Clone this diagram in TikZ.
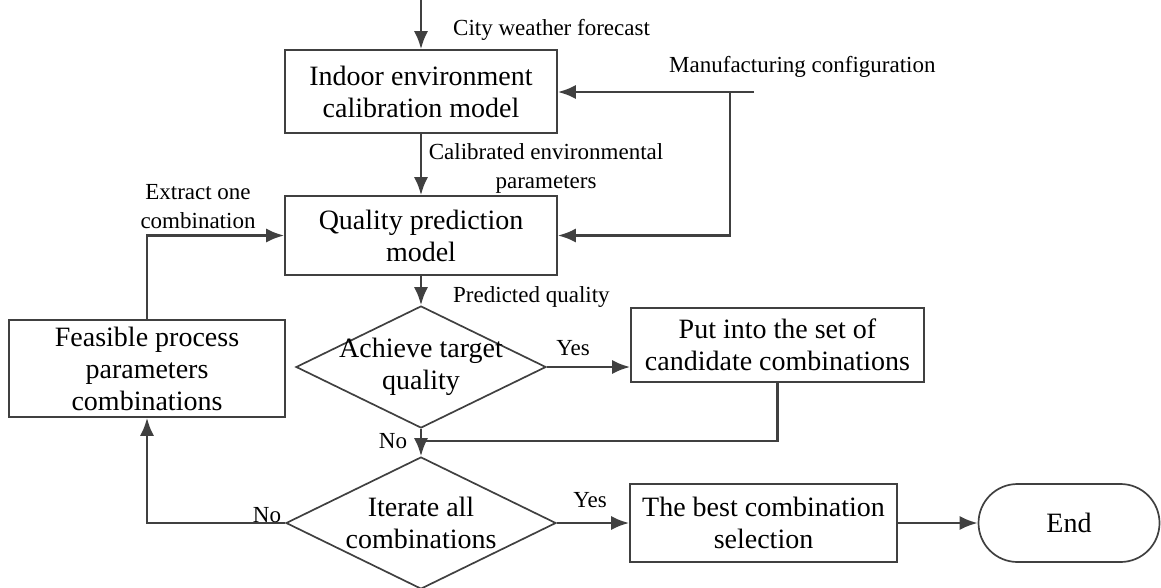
\documentclass[tikz,border=0pt]{standalone}
\usepackage{fontspec}
\setmainfont{Liberation Serif}
\usetikzlibrary{arrows.meta,shapes.geometric,shapes.misc,positioning}

\definecolor{linegray}{HTML}{404040}

\begin{document}
\begin{tikzpicture}
  [
  x=1pt, y=-1pt,
  line width=2.4pt, draw=linegray, >={Latex[length=18pt,width=14pt]},
  flowbox/.style={rectangle, draw=linegray, line width=1.7pt, align=center, inner sep=1pt, font=\fontsize{28}{32}\selectfont},
  decision/.style={diamond, draw=linegray, line width=1.7pt, inner sep=0pt},
  flowtext/.style={align=center, font=\fontsize{28}{32}\selectfont},
  flowlabel/.style={align=center, inner sep=0pt, font=\fontsize{23}{29}\selectfont}
  ]
  \useasboundingbox (0,0) rectangle (1161,587);

  % main chain
  \node[flowbox, minimum width=272pt, minimum height=83pt] (calib) at (421,91.5) {Indoor environment\\calibration model};
  \node[flowbox, minimum width=272pt, minimum height=79pt] (quality) at (421,235.5) {Quality prediction\\model};
  \node[flowbox, minimum width=276pt, minimum height=97pt] (feasible) at (147,368.5) {Feasible process\\parameters\\combinations};

  \node[decision, minimum width=250pt, minimum height=122pt] (achieve) at (421,367) {};
  \node[flowtext] (achievetext) at (achieve) {Achieve target\\quality};
  \node[flowbox, minimum width=293pt, minimum height=74pt] (candidate) at (777.5,345) {Put into the set of\\candidate combinations};

  \node[decision, minimum width=270pt, minimum height=132pt] (iterate) at (421,523) {};
  \node[flowtext] (iteratetext) at (iterate) {Iterate all\\combinations};
  \node[flowbox, minimum width=267pt, minimum height=78pt] (best) at (763.5,523) {The best combination\\selection};
  \node[flowbox, rounded rectangle, minimum width=183pt, minimum height=78pt] (finish) at (1069,523) {End};

  % inputs
  \coordinate (forecast) at (421,0);
  \coordinate (config) at (754,92);
  \coordinate (configturn) at (730,92);
  \coordinate (merge) at (421,441);

  \draw[->] (forecast) -- (calib);
  \draw[->] (calib) -- (quality);
  \draw[->] (config) -- (config -| calib.east);
  \draw[->] (configturn) |- (quality.east);
  \draw[->] (feasible.north) |- (quality.west);
  \draw[->] (quality) -- (achieve);
  \draw[->] (achieve.east) -- (achieve.east -| candidate.west);
  \draw (candidate.south) |- (merge);
  \draw[->] (achieve.south) -- (iterate.north);
  \draw[->] (iterate.west) -| (feasible.south);
  \draw[->] (iterate) -- (best);
  \draw[->] (best) -- (finish);

  % labels
  \node[flowlabel, anchor=west] (forecastlabel) at (452,30) {City weather forecast};
  \node[flowlabel, anchor=west] (configlabel) at (668,67) {Manufacturing configuration};
  \node[flowlabel] (calibratedlabel) at (546,168) {Calibrated environmental\\parameters};
  \node[flowlabel] (extractlabel) at (198,207) {Extract one\\combination};
  \node[flowlabel, anchor=west] (predictedlabel) at (452,297) {Predicted quality};
  \node[flowlabel] (yesone) at (573,348) {Yes};
  \node[flowlabel] (noone) at (393,441) {No};
  \node[flowlabel] (notwo) at (267,515) {No};
  \node[flowlabel] (yestwo) at (590,500) {Yes};
\end{tikzpicture}
\end{document}
